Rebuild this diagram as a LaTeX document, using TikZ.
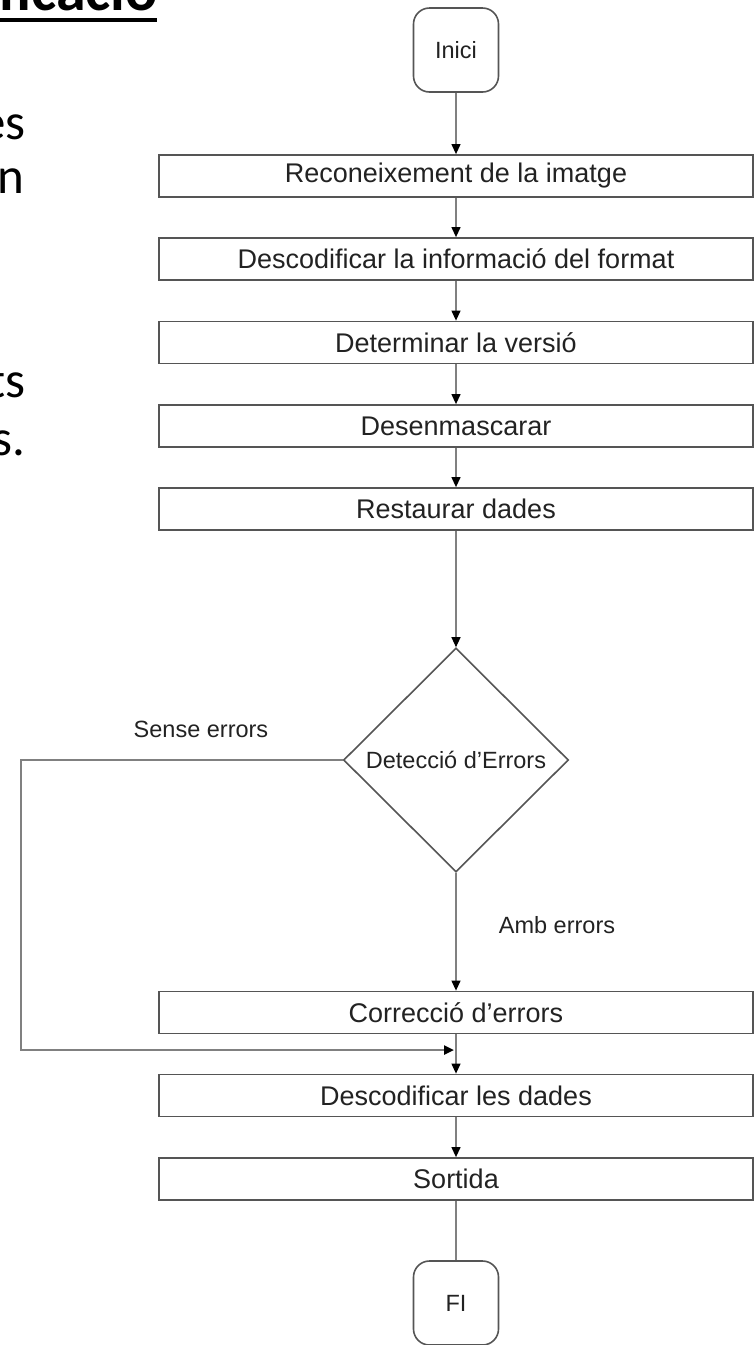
\documentclass[tikz,border=0pt]{standalone}
\usepackage{fontspec}
\setmainfont{Liberation Sans}
\newfontfamily\calib{Carlito}
\usetikzlibrary{shapes.geometric,arrows.meta}
\definecolor{boxgray}{HTML}{555555}
\definecolor{linegray}{HTML}{808080}
\definecolor{txt}{HTML}{222222}
\begin{document}
\begin{tikzpicture}[x=1pt,y=-1pt,
  process/.style={draw=boxgray, line width=1.8pt, minimum width=594pt, minimum height=42pt, inner sep=0pt, text=txt, font=\fontsize{27}{30}\selectfont},
  term/.style={draw=boxgray, line width=1.6pt, rounded corners=16pt, minimum width=85pt, minimum height=84pt, inner sep=0pt, text=txt, font=\fontsize{23.5}{27}\selectfont},
  decision/.style={diamond, draw=boxgray, line width=1.6pt, minimum width=225pt, minimum height=224pt, inner sep=0pt, text=txt, font=\fontsize{23.5}{27}\selectfont},
  lbl/.style={text=txt, font=\fontsize{23.5}{27}\selectfont, inner sep=0pt},
  conn/.style={draw=linegray, line width=1.2pt, -{Triangle[length=10pt,width=9pt,color=black]}},
  plainconn/.style={draw=linegray, line width=1.2pt},
  backline/.style={draw=linegray, line width=2.4pt, -{Triangle[length=10pt,width=9pt,color=black]}},
  frag/.style={anchor=base east, inner sep=0pt, font=\calib\fontsize{51}{51}\selectfont}
]
\useasboundingbox (0,0) rectangle (755,1345);

% slide text fragments
\node[anchor=base east, inner sep=0pt, font=\calib\bfseries\fontsize{60}{60}\selectfont] (ttl) at (158,10) {ficació};
\draw[line width=4pt] (0,19.5) -- (157,19.5);
\node[frag] (f1) at (26,139) {és};
\node[frag] (f2) at (24,193) {n};
\node[frag] (f3) at (26,397) {ts};
\node[frag] (f4) at (26,455) {s.};

% flowchart
\node[term] (start) at (456,50) {Inici};
\node[process] (p1) at (456,176) {Reconeixement de la imatge};
\node[process] (p2) at (456,259) {Descodificar la informació del format};
\node[process] (p3) at (456,342.5) {Determinar la versió};
\node[process] (p4) at (456,426) {Desenmascarar};
\node[process] (p5) at (456,509) {Restaurar dades};
\node[decision] (dec) at (456,760) {Detecció d’Errors};
\node[process] (p6) at (456,1012.5) {Correcció d’errors};
\node[process] (p7) at (456,1095.5) {Descodificar les dades};
\node[process] (p8) at (456,1179) {Sortida};
\node[term] (end) at (456,1303) {FI};

\node[lbl] (ls) at (201,729) {Sense errors};
\node[lbl] (la) at (557,925) {Amb errors};

\draw[conn] (start) -- (p1);
\draw[conn] (p1) -- (p2);
\draw[conn] (p2) -- (p3);
\draw[conn] (p3) -- (p4);
\draw[conn] (p4) -- (p5);
\draw[conn] (p5) -- (dec);
\draw[conn] (dec) -- (p6);
\draw[conn] (p6) -- (p7);
\draw[conn] (p7) -- (p8);
\draw[plainconn] (p8) -- (end);

\coordinate (lt) at (21,760);
\coordinate (lb) at (21,1050);
\coordinate (jn) at (454,1050);
\draw[backline] (dec.west) -- (lt) -- (lb) -- (jn);
\end{tikzpicture}
\end{document}
